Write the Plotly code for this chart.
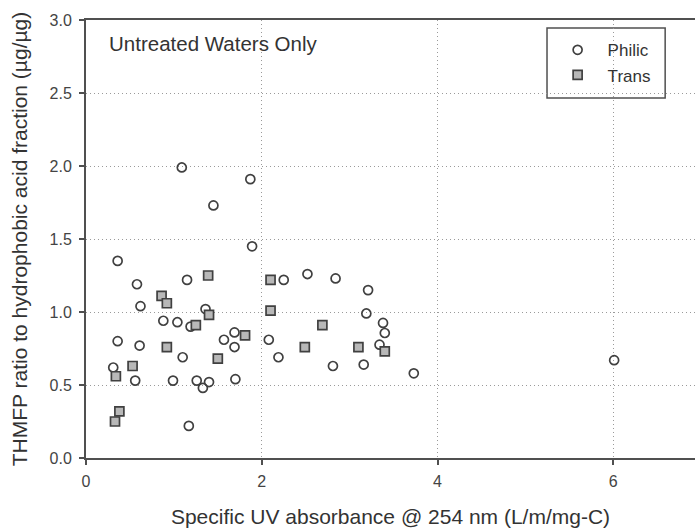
import plotly.graph_objects as go

# Specific UV absorbance (L/m/mg-C) and THMFP ratio, hydrophilic fraction
philic_x = [0.36, 0.58, 1.15, 0.62, 1.36, 0.88, 1.04, 1.19, 0.36, 0.61,
            1.10, 0.31, 0.56, 0.99, 1.26, 1.33, 1.40, 1.17, 1.69, 1.57,
            1.69, 1.70, 2.25, 2.52, 2.84, 2.08, 2.19, 2.81, 1.09, 1.45,
            1.87, 1.89, 3.21, 3.19, 3.38, 3.40, 3.34, 3.16, 3.73, 6.01]
philic_y = [1.35, 1.19, 1.22, 1.04, 1.02, 0.94, 0.93, 0.90, 0.80, 0.77,
            0.69, 0.62, 0.53, 0.53, 0.53, 0.48, 0.52, 0.22, 0.86, 0.81,
            0.76, 0.54, 1.22, 1.26, 1.23, 0.81, 0.69, 0.63, 1.99, 1.73,
            1.91, 1.45, 1.15, 0.99, 0.925, 0.856, 0.776, 0.64, 0.58, 0.67]

# Transphilic fraction
trans_x = [1.39, 0.86, 0.92, 1.40, 1.25, 1.81, 0.92, 1.50, 0.53, 0.34,
           0.38, 0.33, 2.10, 2.10, 2.69, 2.49, 3.10, 3.40]
trans_y = [1.25, 1.11, 1.06, 0.98, 0.91, 0.84, 0.76, 0.68, 0.63, 0.56,
           0.32, 0.25, 1.22, 1.01, 0.91, 0.76, 0.76, 0.73]

x_ticks = [0, 2, 4, 6]
y_ticks = [0.0, 0.5, 1.0, 1.5, 2.0, 2.5, 3.0]

FONT = "Liberation Sans, Arial, sans-serif"
INK = "#333333"
EDGE = "#404040"

fig = go.Figure()
fig.add_trace(go.Scatter(
    x=philic_x, y=philic_y, mode="markers", name="Philic",
    marker=dict(symbol="circle-open", size=9, color=EDGE, line=dict(width=1.7, color=EDGE)),
))
fig.add_trace(go.Scatter(
    x=trans_x, y=trans_y, mode="markers", name="Trans",
    marker=dict(symbol="square", size=9, color="#b8b8b8", line=dict(width=1.7, color=EDGE)),
))

axis_common = dict(
    showline=True, linecolor="#505050", linewidth=2,
    showgrid=True, gridcolor="#9a9a9a", gridwidth=1, griddash="1px,3px",
    zeroline=False, ticks="outside", ticklen=5, tickwidth=1.5, tickcolor="#505050",
    tickfont=dict(family=FONT, size=16, color="#444444"),
)

fig.update_layout(
    width=695, height=529,
    margin=dict(l=86, r=0, t=20, b=71),
    paper_bgcolor="white", plot_bgcolor="white",
    font=dict(family=FONT, color=INK),
    xaxis=dict(
        range=[0, 6.93], tickvals=x_ticks, ticktext=[str(v) for v in x_ticks],
        mirror=True, ticklabelstandoff=3,
        title=dict(text="Specific UV absorbance @ 254 nm (L/m/mg-C)",
                   font=dict(family=FONT, size=21, color=INK), standoff=20),
        **axis_common,
    ),
    yaxis=dict(
        range=[0, 3.0], tickvals=y_ticks, ticktext=[f"{v:.1f}" for v in y_ticks],
        mirror=False, ticklabelstandoff=4,
        title=dict(text="THMFP ratio to hydrophobic acid fraction (µg/µg)",
                   font=dict(family=FONT, size=21, color=INK), standoff=16),
        **axis_common,
    ),
    legend=dict(
        x=0.758, y=0.972, xanchor="left", yanchor="top",
        bgcolor="rgba(0,0,0,0)", borderwidth=0,
        font=dict(family=FONT, size=17, color=INK),
        itemwidth=50, entrywidth=58,
    ),
    showlegend=True,
    # frame around the legend entries
    shapes=[dict(
        type="rect", xref="paper", yref="paper",
        x0=0.757, x1=0.951, y0=0.822, y1=0.982,
        line=dict(color="#505050", width=1.5), fillcolor="white", layer="below",
    )],
    annotations=[dict(
        text="Untreated Waters Only", xref="paper", yref="paper",
        x=0.034, y=0.947, xanchor="left", yanchor="middle", showarrow=False,
        font=dict(family=FONT, size=20.5, color=INK),
    )],
)

fig.write_html("out.html")
